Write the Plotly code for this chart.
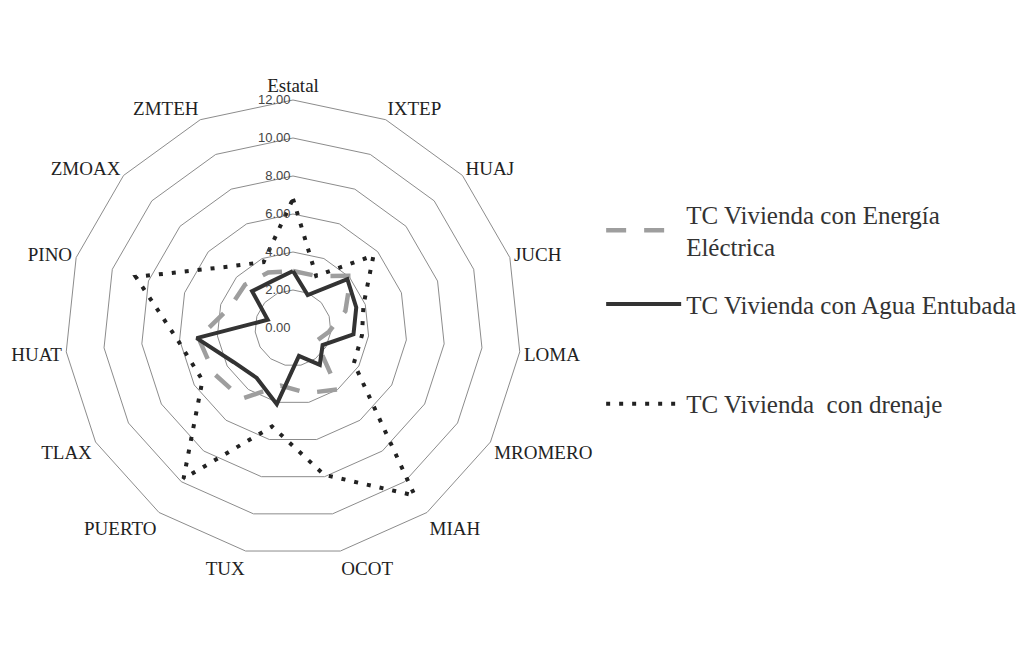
import plotly.graph_objects as go

categories = ["Estatal", "IXTEP", "HUAJ", "JUCH", "LOMA", "MROMERO", "MIAH", "OCOT",
              "TUX", "PUERTO", "TLAX", "HUAT", "PINO", "ZMOAX", "ZMTEH"]

energia = [3.0, 3.0, 4.1, 2.9, 1.9, 1.4, 4.0, 3.5, 3.1, 4.6, 4.8, 5.0, 3.5, 3.4, 3.2]
agua = [3.0, 1.9, 3.85, 3.5, 3.2, 1.8, 2.4, 1.5, 4.1, 3.25, 3.6, 5.1, 1.4, 2.9, 2.7]
drenaje = [6.8, 3.0, 5.7, 3.9, 3.65, 3.7, 10.9, 7.9, 5.3, 9.8, 5.5, 6.1, 8.7, 4.8, 3.8]

names = ["TC Vivienda con Energía<br>Eléctrica",
         "TC Vivienda con Agua Entubada",
         "TC Vivienda  con drenaje"]

tick_vals = [0, 2, 4, 6, 8, 10, 12]
tick_text = ["0.00", "2.00", "4.00", "6.00", "8.00", "10.00", "12.00"]


def closed(v):
    return list(v) + [v[0]]


cats_c = closed(categories)

fig = go.Figure()
fig.add_trace(go.Scatterpolar(
    r=closed(energia), theta=cats_c, mode="lines", name=names[0], legend="legend",
    line=dict(color="#9e9e9e", width=4.5, dash="20px,18px")))
fig.add_trace(go.Scatterpolar(
    r=closed(agua), theta=cats_c, mode="lines", name=names[1], legend="legend2",
    line=dict(color="#333333", width=4)))
fig.add_trace(go.Scatterpolar(
    r=closed(drenaje), theta=cats_c, mode="lines", name=names[2], legend="legend3",
    line=dict(color="#222222", width=4, dash="4px,9px")))

W, H = 1028, 652
R = 228
cx = 285            # figure px from left
cy = H - 320        # figure px from bottom

leg_common = dict(
    x=0.577, xanchor="left", yanchor="top", itemwidth=75,
    font=dict(family="Liberation Serif", size=25, color="#333333"),
    bgcolor="rgba(0,0,0,0)",
)

fig.update_layout(
    width=W, height=H,
    margin=dict(l=0, r=0, t=0, b=0),
    paper_bgcolor="white", plot_bgcolor="white",
    font=dict(family="Liberation Serif", color="#222222"),
    polar=dict(
        domain=dict(x=[(cx - R) / W, (cx + R) / W], y=[(cy - R) / H, (cy + R) / H]),
        bgcolor="white",
        gridshape="linear",
        angularaxis=dict(
            direction="clockwise", rotation=90, type="category",
            categoryarray=categories,
            showgrid=False, showline=True, linecolor="#8c8c8c", linewidth=1,
            ticks="", tickfont=dict(family="Liberation Serif", size=19, color="#222222"),
        ),
        radialaxis=dict(
            range=[0, 12], tickvals=tick_vals, ticktext=tick_text,
            angle=90, tickangle=90, showline=False, ticks="",
            gridcolor="#8c8c8c", gridwidth=1,
            tickfont=dict(family="Liberation Sans", size=13, color="#444444"),
            side="counterclockwise",
        ),
    ),
    legend=dict(y=0.719, **leg_common),
    legend2=dict(y=0.581, **leg_common),
    legend3=dict(y=0.428, **leg_common),
    showlegend=True,
)

fig.write_html("out.html")
